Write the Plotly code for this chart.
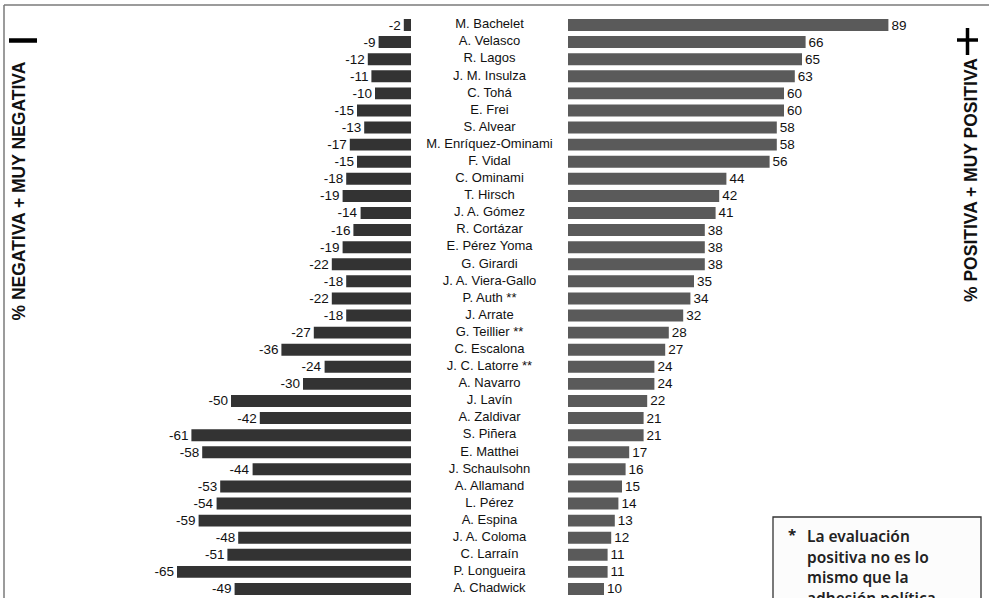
import plotly.graph_objects as go

names = [
    "M. Bachelet", "A. Velasco", "R. Lagos", "J. M. Insulza", "C. Tohá", "E. Frei",
    "S. Alvear", "M. Enríquez-Ominami", "F. Vidal", "C. Ominami", "T. Hirsch",
    "J. A. Gómez", "R. Cortázar", "E. Pérez Yoma", "G. Girardi", "J. A. Viera-Gallo",
    "P. Auth **", "J. Arrate", "G. Teillier **", "C. Escalona", "J. C. Latorre **",
    "A. Navarro", "J. Lavín", "A. Zaldivar", "S. Piñera", "E. Matthei",
    "J. Schaulsohn", "A. Allamand", "L. Pérez", "A. Espina", "J. A. Coloma",
    "C. Larraín", "P. Longueira", "A. Chadwick",
]
negative = [-2, -9, -12, -11, -10, -15, -13, -17, -15, -18, -19, -14, -16, -19, -22,
            -18, -22, -18, -27, -36, -24, -30, -50, -42, -61, -58, -44, -53, -54,
            -59, -48, -51, -65, -49]
positive = [89, 66, 65, 63, 60, 60, 58, 58, 56, 44, 42, 41, 38, 38, 38, 35, 34, 32,
            28, 27, 24, 24, 22, 21, 21, 17, 16, 15, 14, 13, 12, 11, 11, 10]

left_label = "% NEGATIVA + MUY NEGATIVA"
right_label = "% POSITIVA + MUY POSITIVA"
note_lines = ["La evaluación", "positiva no es lo", "mismo que la", "adhesión política"]

W, H = 989, 598
S = 3.6            # pixels per percentage point
CX = 489.5         # pixel x of the name column centre
GAP = 78.5 / S     # half gap between the two bar groups, in data units
ROW = 17.09        # pixel spacing between rows
Y0 = 25.0          # pixel y of first row centre

n = len(names)
rows = list(range(n))

def px(x):
    return x / W

def py(y):
    return 1 - y / H

FONT = "Liberation Sans, Arial, sans-serif"
NOTE_FONT = "Noto Sans, sans-serif"

fig = go.Figure()
fig.add_bar(
    y=rows, x=negative, base=[-GAP] * n, orientation="h",
    marker=dict(color="#333333", line=dict(width=0)), width=0.70,
    text=[str(v) for v in negative], textposition="outside",
    textfont=dict(family=FONT, size=13.5, color="#111111"),
    constraintext="none", cliponaxis=False, hoverinfo="skip",
)
fig.add_bar(
    y=rows, x=positive, base=[GAP] * n, orientation="h",
    marker=dict(color="#5a5a5a", line=dict(width=0)), width=0.70,
    text=[str(v) for v in positive], textposition="outside",
    textfont=dict(family=FONT, size=13.5, color="#111111"),
    constraintext="none", cliponaxis=False, hoverinfo="skip",
)
fig.add_scatter(
    x=[0] * n, y=rows, mode="text", text=names,
    textfont=dict(family=FONT, size=13, color="#111111"),
    hoverinfo="skip", cliponaxis=False,
)

shapes = [
    # frame lines
    dict(type="line", xref="paper", yref="paper", x0=px(4), x1=px(989), y0=py(5), y1=py(5),
         line=dict(color="#7a7a7a", width=1.5)),
    dict(type="line", xref="paper", yref="paper", x0=px(4), x1=px(4), y0=py(5), y1=py(598),
         line=dict(color="#7a7a7a", width=1.5)),
    # minus sign
    dict(type="line", xref="paper", yref="paper", x0=px(9), x1=px(37), y0=py(40.5), y1=py(40.5),
         line=dict(color="#000000", width=4.5)),
    # plus sign
    dict(type="line", xref="paper", yref="paper", x0=px(957), x1=px(978), y0=py(40), y1=py(40),
         line=dict(color="#000000", width=3.5)),
    dict(type="line", xref="paper", yref="paper", x0=px(967.5), x1=px(967.5), y0=py(28), y1=py(55),
         line=dict(color="#000000", width=3.5)),
    # note box
    dict(type="rect", xref="paper", yref="paper", x0=px(773), x1=px(981), y0=py(517), y1=py(640),
         line=dict(color="#333333", width=1.3), fillcolor="#fcfcfc", layer="above"),
]

annotations = [
    dict(text=left_label, xref="paper", yref="paper", x=px(18.5), y=py(191), textangle=-90,
         showarrow=False, xanchor="center", yanchor="middle",
         font=dict(family=FONT, size=17.5, color="#111111", weight="bold")),
    dict(text=right_label, xref="paper", yref="paper", x=px(971), y=py(180), textangle=-90,
         showarrow=False, xanchor="center", yanchor="middle",
         font=dict(family=FONT, size=17.5, color="#111111", weight="bold")),
    dict(text="*", xref="paper", yref="paper", x=px(786), y=py(534), showarrow=False,
         xanchor="left", yanchor="middle",
         font=dict(family=NOTE_FONT, size=15, color="#222222", weight="bold")),
]
for k, line in enumerate(note_lines):
    annotations.append(dict(
        text=line, xref="paper", yref="paper", x=px(805), y=py(536 + 20.5 * k),
        showarrow=False, xanchor="left", yanchor="middle", align="left",
        font=dict(family=NOTE_FONT, size=15.5, color="#222222", weight=600),
    ))

fig.update_layout(
    width=W, height=H, margin=dict(l=0, r=0, t=0, b=0),
    paper_bgcolor="white", plot_bgcolor="white", showlegend=False,
    barmode="overlay",
    xaxis=dict(range=[-CX / S, (W - CX) / S], visible=False, fixedrange=True),
    yaxis=dict(range=[(H - Y0) / ROW, -Y0 / ROW], visible=False, fixedrange=True),
    shapes=shapes, annotations=annotations,
)

fig.write_html(
    "out.html",
    config={"displayModeBar": False, "staticPlot": True},
    post_script="document.body.style.margin='0';document.body.style.overflow='hidden';",
)
